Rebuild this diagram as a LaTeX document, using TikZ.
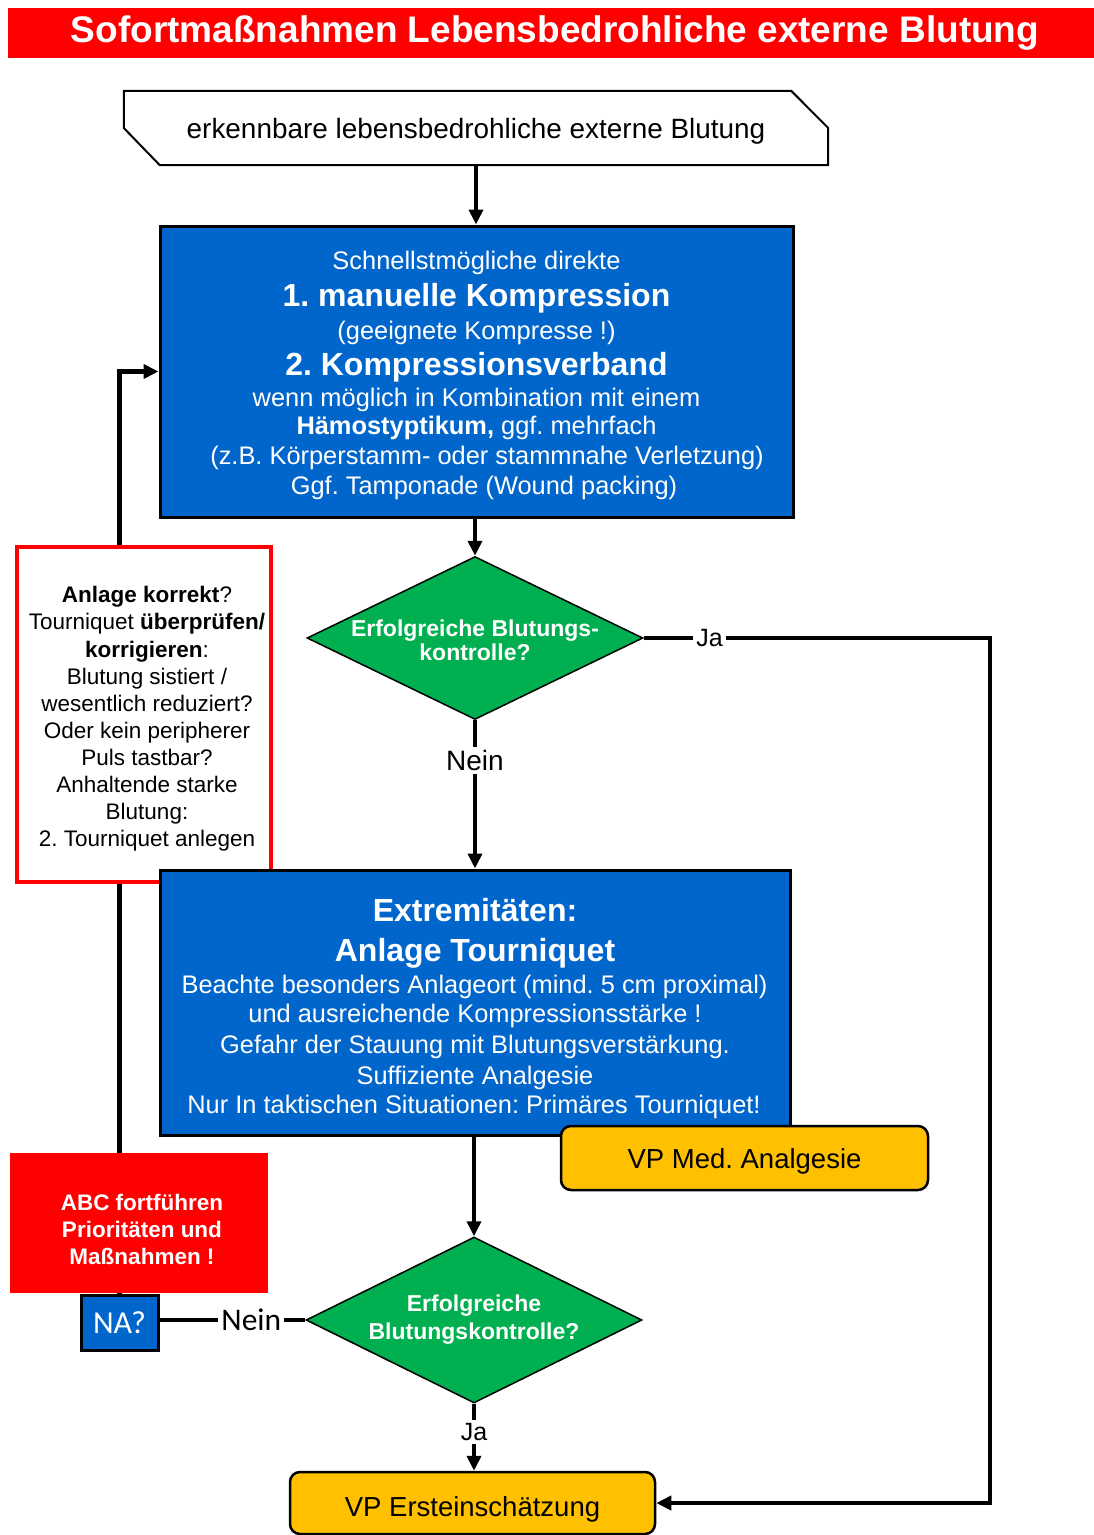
\documentclass[tikz,border=0pt]{standalone}
\usepackage{fontspec}
\setmainfont{Liberation Sans}
\newfontfamily\calfont{Carlito}
\usetikzlibrary{arrows.meta,shapes.geometric,backgrounds}
\definecolor{hred}{RGB}{255,0,0}
\definecolor{hblue}{RGB}{0,102,204}
\definecolor{hgreen}{RGB}{0,176,80}
\definecolor{hyellow}{RGB}{255,192,0}
\newcommand\myfs[2]{\fontsize{#1}{#2}\selectfont}
\frenchspacing
\begin{document}
\begin{tikzpicture}[x=1pt,y=-1pt,
  conn/.style={line width=4.5pt,draw=black},
  arr/.style={-{Triangle[length=15pt,width=14pt]}},
  bluebox/.style={rectangle,fill=hblue,draw=black,line width=3pt,inner sep=0pt},
  dia/.style={diamond,fill=hgreen,draw=black,line width=1.5pt,inner sep=0pt},
  diatext/.style={align=center,text=white,inner sep=0pt},
  vpbox/.style={rectangle,rounded corners=10pt,fill=hyellow,draw=black,line width=2.5pt,inner sep=0pt,font=\myfs{27.5}{30}},
  tl/.style={anchor=base,inner sep=0pt,text=white},
  reg/.style={font=\myfs{25.4}{30}},
  big/.style={font=\bfseries\myfs{32}{36}},
  lbl/.style={fill=white,inner sep=3pt}]
\useasboundingbox (0,0) rectangle (1094,1535);

% title
\node[fill=hred,minimum width=1086pt,minimum height=50pt,inner sep=0pt,text=white,font=\bfseries\myfs{37}{40}] (title) at (551,33) {\hspace*{8pt}Sofortmaßnahmen Lebensbedrohliche externe Blutung};

% start shape
\node[minimum width=704pt,minimum height=74pt,inner sep=0pt,text height=20pt,text depth=0pt,font=\myfs{27.9}{30}] (start) at (476,128) {erkennbare lebensbedrohliche externe Blutung};
\draw[line width=2pt] (start.north west) -- ([xshift=-37pt]start.north east) -- (start.east) -- (start.south east) -- ([xshift=36pt]start.south west) -- (start.west) -- cycle;

% box 1
\node[bluebox,minimum width=633pt,minimum height=291pt] (b1) at (476.5,371.5) {};
\node[tl,reg] (b1a) at (476.5,269) {Schnellstmögliche direkte};
\node[tl,big] (b1b) at (476.5,306.5) {1. manuelle Kompression};
\node[tl,reg] (b1c) at (476.5,339) {(geeignete Kompresse !)};
\node[tl,big] (b1d) at (476.5,375.5) {2. Kompressionsverband};
\node[tl,reg] (b1e) at (476.5,406) {wenn möglich in Kombination mit einem};
\node[tl,reg] (b1f) at (476.5,434) {\textbf{Hämostyptikum,} ggf. mehrfach};
\node[tl,reg] (b1g) at (487,464) {(z.B. Körperstamm- oder stammnahe Verletzung)};
\node[tl,reg] (b1h) at (484,494) {Ggf. Tamponade (Wound packing)};

% diamond 1
\node[dia,minimum width=336pt,minimum height=163pt] (d1) at (475,638) {};
\node[diatext,font=\bfseries\myfs{23}{24}] (d1t) at (475,640) {Erfolgreiche Blutungs-\\kontrolle?};

% red outlined box
\node[rectangle,draw=hred,fill=white,line width=4pt,minimum width=254pt,minimum height=335pt,inner sep=0pt] (rb) at (144,714.5) {};
\node[align=center,inner sep=0pt,font=\myfs{22.5}{27.1}] (rbt) at (147,719) {\textbf{Anlage korrekt}?\\Tourniquet \textbf{überprüfen/}\\\textbf{korrigieren}:\\Blutung sistiert /\\wesentlich reduziert?\\Oder kein peripherer\\Puls tastbar?\\Anhaltende starke\\Blutung:\\2. Tourniquet anlegen};

% box 2
\node[bluebox,minimum width=630pt,minimum height=265pt] (b2) at (475,1002.5) {};
\node[tl,big] (b2a) at (475,921.5) {Extremitäten:};
\node[tl,big] (b2b) at (475,961.5) {Anlage Tourniquet};
\node[tl,reg] (b2c) at (474.5,993) {Beachte besonders Anlageort (mind. 5 cm proximal)};
\node[tl,reg] (b2d) at (475,1022) {und ausreichende Kompressionsstärke !};
\node[tl,reg] (b2e) at (475,1053) {Gefahr der Stauung mit Blutungsverstärkung.};
\node[tl,reg] (b2f) at (475,1084) {Suffiziente Analgesie};
\node[tl,reg] (b2g) at (474,1113) {Nur In taktischen Situationen: Primäres Tourniquet!};

% VP Med. Analgesie
\node[vpbox,minimum width=367pt,minimum height=64pt,text height=20pt,text depth=0pt] (vp1) at (744.5,1158) {VP Med. Analgesie};

% ABC box
\node[rectangle,fill=hred,minimum width=258pt,minimum height=140pt,inner sep=0pt] (abc) at (139,1223) {};
\node[align=center,inner sep=0pt,text=white,font=\bfseries\myfs{22.5}{27}] (abct) at (142,1229) {ABC fortführen\\Prioritäten und\\Maßnahmen !};

% NA box
\node[rectangle,fill=hblue,draw=black,line width=3pt,minimum width=77pt,minimum height=55pt,inner sep=0pt,text=white,font=\calfont\myfs{32}{34}] (na) at (119.5,1322.5) {NA?};

% diamond 2
\node[dia,minimum width=336pt,minimum height=166pt] (d2) at (474,1320) {};
\node[diatext,font=\bfseries\myfs{23}{28}] (d2t) at (474,1320) {Erfolgreiche\\Blutungskontrolle?};

% VP Ersteinschaetzung
\node[vpbox,minimum width=365pt,minimum height=62pt,text height=26pt,text depth=0pt] (vp2) at (472.5,1503) {VP Ersteinschätzung};

\coordinate (jr) at (990,0);

% connectors
\draw[conn,arr] (start.south) -- (start.south |- b1.north);
\draw[conn,arr] (b1.south -| d1.north) -- (d1.north);
\draw[conn,arr] (d1.south) -- node[pos=0.27,lbl,font=\myfs{28}{30}] (nein1) {Nein} (b2.north -| d1.south);
\draw[conn,arr] (d1.east) -- node[pos=0.19,lbl,font=\myfs{25}{28}] (ja1) {Ja} (d1.east -| jr) |- (vp2.east);
\draw[conn,arr] (b2.south -| d2.north) -- (d2.north);
\draw[conn,arr] (d2.south) -- node[pos=0.42,lbl,font=\myfs{25}{28}] (ja2) {Ja} (vp2.north -| d2.south);
\draw[conn] (d2.west) -- node[pos=0.37,lbl,font=\calfont\myfs{31.5}{33}] (nein2) {Nein} (na.east |- d2.west);
\begin{scope}[on background layer]
\draw[conn,arr] (na.north) |- (b1.west);
\end{scope}
\end{tikzpicture}
\end{document}
